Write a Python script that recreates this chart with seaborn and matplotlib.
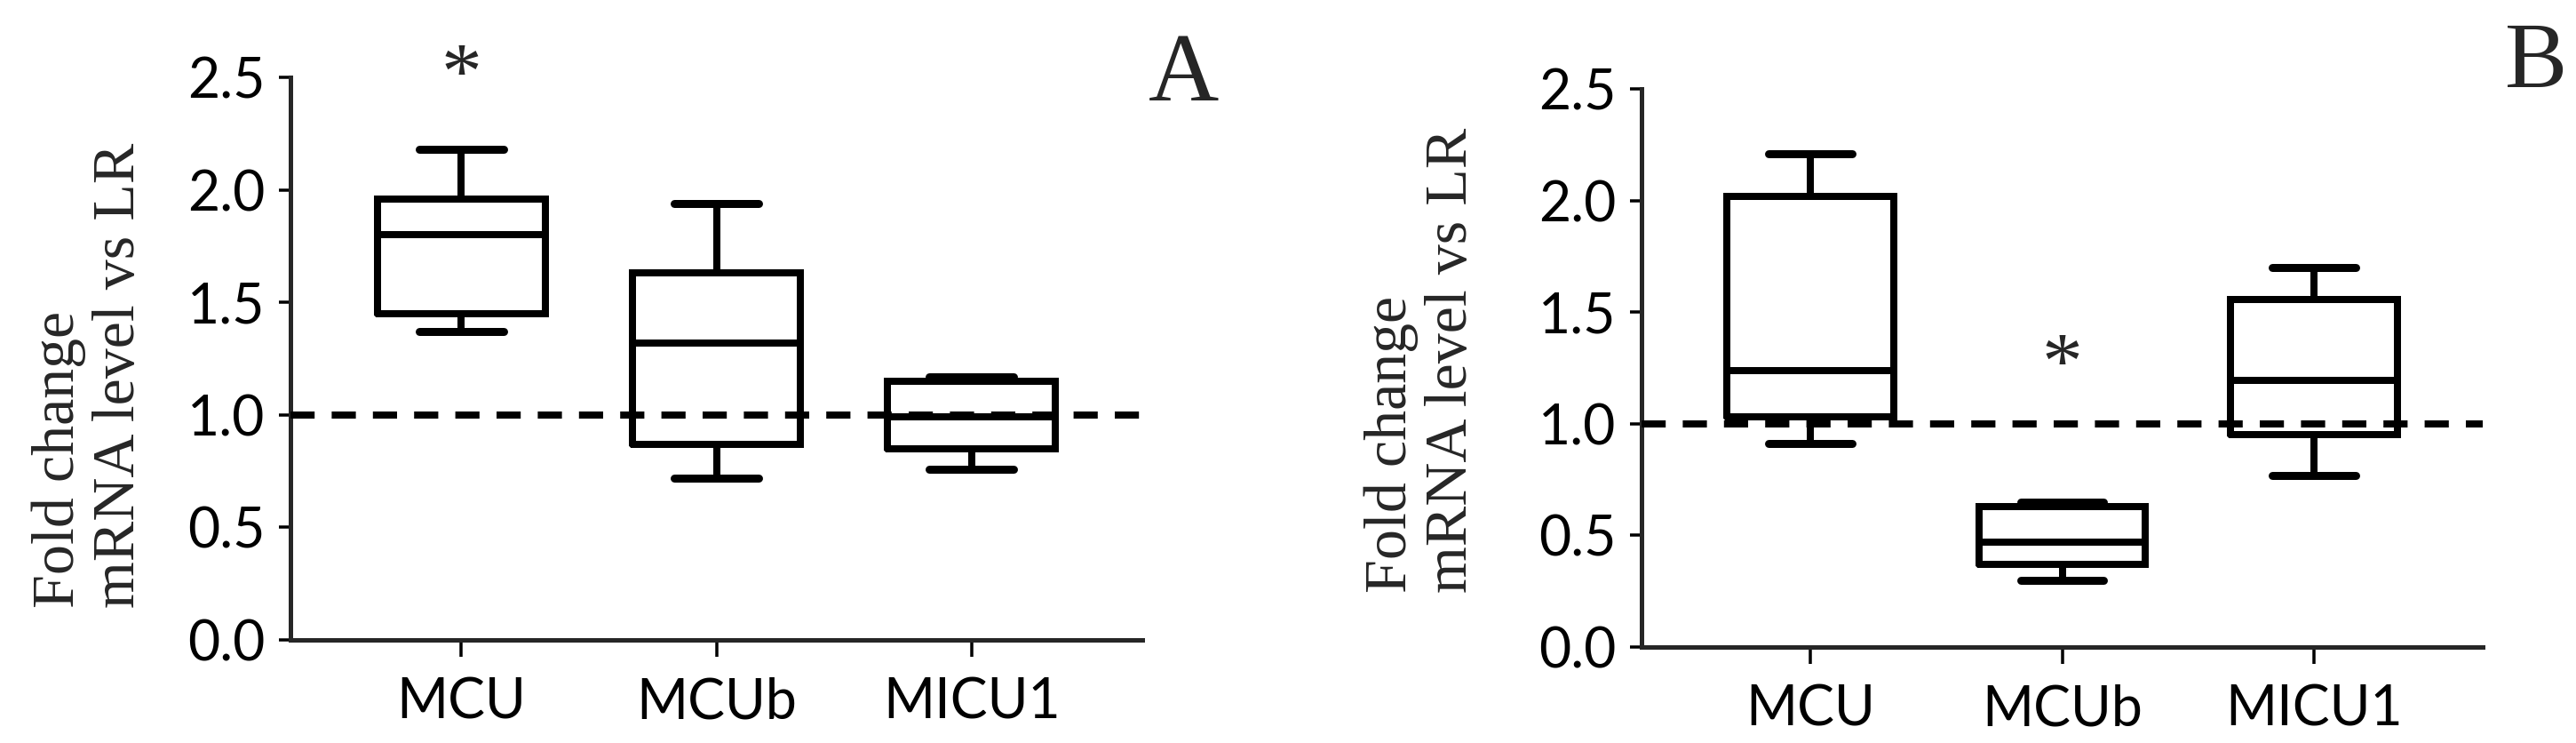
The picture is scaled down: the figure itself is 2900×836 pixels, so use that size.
import numpy as np
import matplotlib
matplotlib.use('Agg')
import matplotlib.pyplot as plt
import pandas as pd
import seaborn as sns

# categories on the x axis
genes = ['MCU', 'MCUb', 'MICU1']

# box plot five-number summaries: min, q1, median, q3, max
a_mcu = [1.37, 1.45, 1.80, 1.96, 2.18]
a_mcub = [0.72, 0.87, 1.32, 1.63, 1.94]
a_micu1 = [0.76, 0.85, 0.99, 1.15, 1.17]

b_mcu = [0.91, 1.03, 1.24, 2.02, 2.21]
b_mcub = [0.30, 0.37, 0.47, 0.63, 0.65]
b_micu1 = [0.77, 0.95, 1.195, 1.555, 1.70]

y_ticks = [0.0, 0.5, 1.0, 1.5, 2.0, 2.5]
y_label = 'Fold change\nmRNA level vs LR'

# significance marks: (gene index, y position of the star baseline)
star_a = (0, 2.405)
star_b = (1, 1.16)

W, H = 2900, 836
PX = 72 / 100  # points per pixel at dpi 100


def make_frame(values):
    """Long form table of the five values per gene"""
    rows = []
    for gene, vals in zip(genes, values):
        for v in vals:
            rows.append({'gene': gene, 'fold': v})
    return pd.DataFrame(rows)


def draw_panel(ax, df, star):
    """Draw one GraphPad style box plot panel"""
    lw = 8 * PX
    sns.boxplot(data=df, x='gene', y='fold', order=genes, ax=ax,
                whis=(0, 100), width=0.66, fill=False, color='black',
                linecolor='black', linewidth=lw, showfliers=False,
                capprops=dict(linewidth=9 * PX),
                boxprops=dict(solid_joinstyle='miter'))

    # reference line at 1.0
    ax.axhline(1.0, color='black', lw=8 * PX, zorder=5,
               dashes=(3.4, 2.4))

    ax.set_xlim(-0.67, 2.67)
    ax.set_ylim(0, 2.5)
    ax.set_yticks(y_ticks)
    ax.set_yticklabels(['%.1f' % t for t in y_ticks])
    ax.set_xlabel('')
    ax.set_ylabel('')

    for side in ['top', 'right']:
        ax.spines[side].set_visible(False)
    for side in ['left', 'bottom']:
        ax.spines[side].set_linewidth(5 * PX)
        ax.spines[side].set_capstyle('projecting')

    ax.tick_params(axis='y', length=13 * PX, width=3.5 * PX, pad=11,
                   labelsize=45, colors='black')
    ax.tick_params(axis='x', length=19 * PX, width=3.5 * PX, pad=16,
                   labelsize=45, colors='black')

    ax.text(star[0], star[1], '*', ha='center', va='baseline',
            fontsize=66, family='Liberation Serif', clip_on=False)


sns.set_style('ticks')
plt.rcParams['font.family'] = ['Lato', 'DejaVu Sans']

fig = plt.figure(figsize=(W / 100, H / 100), dpi=100)

ax_a = fig.add_axes([327 / W, 1 - 720 / H, (1286 - 327) / W, (720 - 87) / H])
ax_b = fig.add_axes([1848 / W, 1 - 728 / H, (2795 - 1848) / W, (728 - 100) / H])

df_a = make_frame([a_mcu, a_mcub, a_micu1])
df_b = make_frame([b_mcu, b_mcub, b_micu1])

draw_panel(ax_a, df_a, star_a)
draw_panel(ax_b, df_b, star_b)

# y axis titles, two lines aligned at their start
fig.text(100 / W, 1 - 422 / H, y_label, rotation=90, ha='center', va='center',
         multialignment='left', fontsize=49, family='Liberation Serif',
         linespacing=1.15)
fig.text(1600 / W, 1 - 405 / H, y_label, rotation=90, ha='center', va='center',
         multialignment='left', fontsize=49, family='Liberation Serif',
         linespacing=1.15)

# panel letters
fig.text(1332 / W, 1 - 113 / H, 'A', ha='center', va='baseline',
         fontsize=79, family='Liberation Serif')
fig.text(2855 / W, 1 - 98 / H, 'B', ha='center', va='baseline',
         fontsize=76, family='Liberation Serif')

fig.savefig('out.png', dpi=100)
